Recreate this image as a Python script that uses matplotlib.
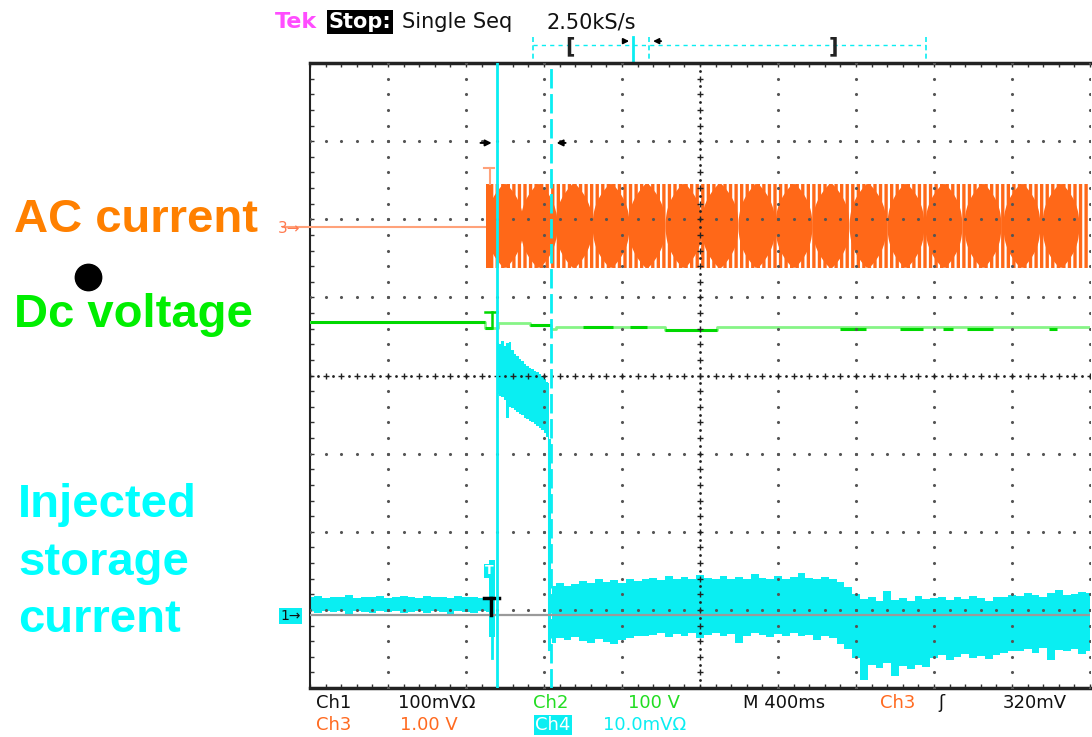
import numpy as np
import matplotlib.pyplot as plt
import matplotlib.transforms as mtransforms
from matplotlib.lines import Line2D
from matplotlib.patches import Polygon

# scope settings: 400 ms/div, 10 x 8 divisions, traces in divisions
sec_per_div = 0.4
n_xdiv, n_ydiv = 10, 8

# Ch3 - AC current (orange)
ac_level_pre = 1.90
ac_on = 0.905
ac_hi, ac_lo = 2.45, 1.38
ac_lobe_t = [1.000, 1.174, 1.354, 1.544, 1.728, 1.918, 2.103, 2.292,
             2.482, 2.672, 2.862, 3.056, 3.251, 3.451, 3.651, 3.851]

# Ch2 - DC voltage (green), step trace
dc_t = [0.0, 0.895, 0.964, 1.128, 1.236, 1.26, 1.82, 2.087, 4.0]
dc_v = [0.685, 0.608, 0.672, 0.646, 0.600, 0.615, 0.580, 0.617, 0.617]
dc_dark = [(0.0, 0.895, 0.685), (0.895, 0.933, 0.608), (1.128, 1.236, 0.646),
           (1.40, 1.554, 0.615), (1.641, 1.728, 0.615), (1.82, 2.087, 0.580),
           (2.72, 2.85, 0.60), (3.026, 3.144, 0.59), (3.246, 3.297, 0.59),
           (3.369, 3.503, 0.59), (3.79, 3.83, 0.59)]

# Ch4 - injected storage current (cyan), envelope of the noisy trace
inj_pre_t = np.arange(0.0, 0.921, 0.04)
inj_pre_top = [-2.84, -2.82, -2.85, -2.83, -2.84, -2.81, -2.85, -2.83, -2.84, -2.82,
               -2.85, -2.83, -2.82, -2.84, -2.85, -2.82, -2.84, -2.83, -2.85, -2.82,
               -2.84, -2.83, -2.85, -2.84]
inj_pre_bot = [-3.02, -3.04, -3.01, -3.03, -3.02, -3.05, -3.02, -3.03, -3.04, -3.01,
               -3.03, -3.02, -3.04, -3.03, -3.02, -3.04, -3.01, -3.03, -3.05, -3.02,
               -3.03, -3.04, -3.02, -3.03]

inj_on_t = [0.964, 0.974, 0.987, 1.000, 1.013, 1.026, 1.039, 1.051, 1.064, 1.077, 1.090,
            1.103, 1.115, 1.128, 1.141, 1.154, 1.167, 1.179, 1.192, 1.205, 1.218, 1.226]
inj_on_top = [0.42, 0.40, 0.44, 0.38, 0.41, 0.43, 0.33, 0.28, 0.25, 0.21, 0.18,
              0.15, 0.12, 0.10, 0.08, 0.06, 0.04, 0.02, -0.01, -0.04, -0.08, -0.10]
inj_on_bot = [-0.24, -0.26, -0.28, -0.31, -0.54, -0.40, -0.42, -0.44, -0.47, -0.49, -0.51,
              -0.54, -0.56, -0.58, -0.60, -0.62, -0.64, -0.67, -0.70, -0.74, -0.79, -0.83]

inj_post_t = np.arange(1.24, 4.001, 0.04)
inj_post_top = [-2.70, -2.66, -2.69, -2.67,
                -2.63, -2.66, -2.61, -2.64, -2.62, -2.65, -2.60, -2.63, -2.61,
                -2.59, -2.62, -2.57, -2.60, -2.58, -2.61, -2.55, -2.59, -2.60, -2.57,
                -2.61, -2.58, -2.60, -2.54, -2.59, -2.61, -2.57, -2.60, -2.58, -2.53,
                -2.59, -2.60, -2.58,
                -2.60, -2.64,
                -2.71, -2.80,
                -2.86, -2.84, -2.88, -2.76, -2.87, -2.85, -2.89, -2.82, -2.86,
                -2.85, -2.83, -2.87, -2.84, -2.86, -2.82, -2.85, -2.88, -2.84, -2.83, -2.81,
                -2.82, -2.78, -2.81, -2.83, -2.79, -2.74, -2.81, -2.80, -2.77, -2.79]
inj_post_bot = [-3.43, -3.36, -3.38, -3.35,
                -3.40, -3.42, -3.37, -3.41, -3.44, -3.38, -3.36, -3.34, -3.33,
                -3.32, -3.30, -3.35, -3.31, -3.33, -3.29, -3.36, -3.32, -3.30, -3.34,
                -3.31, -3.42, -3.33, -3.30, -3.32, -3.35, -3.31, -3.33, -3.29, -3.34,
                -3.32, -3.38, -3.33,
                -3.36, -3.44,
                -3.50, -3.62,
                -3.90, -3.70, -3.74, -3.68, -3.85, -3.72, -3.76, -3.70, -3.73,
                -3.62, -3.58, -3.64, -3.60, -3.57, -3.61, -3.59, -3.63, -3.58, -3.55, -3.53,
                -3.52, -3.50, -3.55, -3.49, -3.64, -3.51, -3.53, -3.50, -3.56, -3.52]

# Ch1 reference line and cursors
ch1_level = -3.07
cursor_a, cursor_b = 0.959, 1.236

ORANGE = '#ff6818'
ORANGE_LT = '#ffa27a'
GREEN = '#00d800'
GREEN_LT = '#86f486'
CYAN = '#0aeef2'

W, H = 1092, 737
fig = plt.figure(figsize=(W / 100, H / 100), dpi=100)
fig.patch.set_facecolor('white')


def fx(px):
    return px / W


def fy(py):
    return 1 - py / H


ax = fig.add_axes([fx(310), fy(688), fx(1090) - fx(310), fy(63) - fy(688)])
ax.set_xlim(0, n_xdiv * sec_per_div)
ax.set_ylim(-n_ydiv / 2, n_ydiv / 2)
ax.set_facecolor('white')

# graticule: border ticks
ax.set_xticks(np.arange(0, 4.0001, sec_per_div / 5))
ax.set_yticks(np.arange(-4, 4.001, 0.2))
ax.tick_params(direction='in', length=3, width=1, color='#333333',
               top=True, bottom=True, left=True, right=False,
               labelbottom=False, labelleft=False)
ax.spines['right'].set_visible(False)
ax.spines['top'].set_linewidth(2.5)
ax.spines['bottom'].set_linewidth(2.5)
ax.spines['left'].set_linewidth(1.5)
for s in ax.spines.values():
    s.set_color('#222222')

# graticule dots
yy = np.arange(-4, 4.001, 0.2)
xx = np.arange(0, 4.001, sec_per_div / 5)
for k in range(1, n_xdiv + 1):
    if k == 5:
        continue
    ax.scatter(np.full(yy.size, k * sec_per_div), yy, s=5, c='#555555', lw=0, zorder=6)
for j in (-3, -2, -1, 1, 2, 3):
    ax.scatter(xx, np.full(xx.size, j), s=5, c='#555555', lw=0, zorder=6)
# center cross lines
ax.scatter(np.full(yy.size, 2.0), yy, marker='+', s=24, c='#222222', lw=1.0, zorder=6)
ax.scatter(xx, np.zeros(xx.size), marker='+', s=24, c='#222222', lw=1.0, zorder=6)
yh = np.arange(-3.9, 4.0, 0.2)
xh = np.arange(0.04, 4.0, sec_per_div / 5)
ax.scatter(np.full(yh.size, 2.0), yh, s=4, c='#222222', lw=0, zorder=6)
ax.scatter(xh, np.zeros(xh.size), s=4, c='#222222', lw=0, zorder=6)

# Ch3 AC current
ax.plot([-0.14, ac_on], [ac_level_pre, ac_level_pre], color=ORANGE_LT, lw=1.5,
        zorder=3, clip_on=False)
plt.rcParams['hatch.linewidth'] = 2.4
plt.rcParams['hatch.color'] = ORANGE
ax.fill_between([ac_on, 4.0], ac_lo, ac_hi, facecolor='none', edgecolor=ORANGE,
                hatch='|||', lw=0, zorder=3)
ac_mid = (ac_hi + ac_lo) / 2
ac_amp = (ac_hi - ac_lo) / 2
half_w = 0.086
vs = np.linspace(-1, 1, 31)
for c in ac_lobe_t:
    hw = half_w * (1 - np.abs(vs) ** 2.4) + 0.008
    pts = np.column_stack([np.r_[c + hw, (c - hw)[::-1]],
                           np.r_[ac_mid + vs * ac_amp, (ac_mid + vs * ac_amp)[::-1]]])
    ax.add_patch(Polygon(pts, closed=True, facecolor=ORANGE, edgecolor='none', zorder=3))
ax.fill_between([ac_on, ac_on + 0.02], ac_lo, ac_hi, color=ORANGE, lw=0, zorder=3)
ax.plot([0.892, 0.944], [2.657, 2.657], color=ORANGE_LT, lw=1.5, zorder=3)
ax.plot([0.923, 0.923], [2.657, ac_hi], color=ORANGE_LT, lw=1.5, zorder=3)

# Ch2 DC voltage
ax.plot(dc_t, dc_v, drawstyle='steps-post', color=GREEN_LT, lw=2, zorder=3)
for t0, t1, v in dc_dark:
    ax.plot([t0, t1], [v, v], color=GREEN, lw=2.2, solid_capstyle='butt', zorder=3)
ax.plot([0.897, 0.959], [0.813, 0.813], color=GREEN, lw=1.8, zorder=3)
ax.plot([0.933, 0.933], [0.813, 0.608], color=GREEN, lw=1.8, zorder=3)

# Ch4 injected storage current
ax.fill_between(inj_pre_t, inj_pre_bot, inj_pre_top, step='mid', color=CYAN, lw=0, zorder=2)
ax.fill_between([0.918, 0.950], -3.35, -2.36, color=CYAN, lw=0, zorder=2)
ax.plot([0.935, 0.935], [-3.35, -3.62], color=CYAN, lw=2, zorder=2)
ax.fill_between(inj_on_t, inj_on_bot, inj_on_top, step='mid', color=CYAN, lw=0, zorder=2)
ax.plot([1.228, 1.228], [inj_on_bot[-1], inj_post_bot[0] - 0.07], color=CYAN, lw=2.2, zorder=2)
ax.fill_between(inj_post_t, inj_post_bot, inj_post_top, step='mid', color=CYAN, lw=0, zorder=2)
ax.text(0.92, -2.50, 'T', color='white', fontsize=9, fontweight='bold', ha='center',
        va='center', bbox=dict(facecolor=CYAN, edgecolor='none', pad=0.5), zorder=4)

# Ch1 reference trace and trigger mark
ax.plot([0, 4.0], [ch1_level, ch1_level], color='#9a9a9a', lw=1.6, zorder=5)
ax.plot([0.892, 0.969], [-2.85, -2.85], color='black', lw=2.5, zorder=7)
ax.plot([0.928, 0.928], [-2.85, ch1_level], color='black', lw=2.5, zorder=7)

# cursors
ax.axvline(cursor_a, color=CYAN, lw=2, zorder=8)
ax.axvline(cursor_b, color=CYAN, lw=2, ls=(0, (7, 2)), zorder=8)
ax.annotate('', xy=(0.946, 2.977), xytext=(0.86, 2.977),
            arrowprops=dict(arrowstyle='-|>', color='black', lw=1.4, mutation_scale=9), zorder=9)
ax.annotate('', xy=(1.250, 2.977), xytext=(1.325, 2.977),
            arrowprops=dict(arrowstyle='-|>', color='black', lw=1.4, mutation_scale=9), zorder=9)

# record position indicator above the graticule
trans = mtransforms.blended_transform_factory(ax.transData, ax.transAxes)
ax.plot([1.144, 3.159], [1.0288, 1.0288], transform=trans, clip_on=False,
        color=CYAN, lw=1, ls=(0, (3, 3)))
for t in (1.144, 3.159, 1.738):
    ax.plot([t, t], [1.0416, 1.0048], transform=trans, clip_on=False,
            color=CYAN, lw=1.2, ls=(0, (3, 2)))
ax.plot([1.656, 1.656], [1.0416, 1.0], transform=trans, clip_on=False, color=CYAN, lw=2)
ax.text(1.333, 1.027, '[', transform=trans, ha='center', va='center', fontsize=15,
        fontweight='bold', color='#222222')
ax.text(2.682, 1.027, ']', transform=trans, ha='center', va='center', fontsize=15,
        fontweight='bold', color='#222222')
ax.annotate('', xy=(1.651, 1.035), xytext=(1.590, 1.035), xycoords=trans, textcoords=trans,
            arrowprops=dict(arrowstyle='-|>', color='black', lw=1.3, mutation_scale=8))
ax.annotate('', xy=(1.745, 1.035), xytext=(1.815, 1.035), xycoords=trans, textcoords=trans,
            arrowprops=dict(arrowstyle='-|>', color='black', lw=1.3, mutation_scale=8))

# channel markers left of the graticule
fig.text(fx(278), fy(233), '3→', color='#ff7a50', fontsize=11)
fig.text(fx(280), fy(620), '1→', color='#111111', fontsize=10,
         bbox=dict(facecolor=CYAN, edgecolor='none', pad=1))

# header
fig.text(fx(275), fy(28), 'Tek', color='#ff4dff', fontsize=16, fontweight='bold')
fig.text(fx(329), fy(28), 'Stop:', color='white', fontsize=15, fontweight='bold',
         bbox=dict(facecolor='black', edgecolor='none', pad=1.2))
fig.text(fx(402), fy(28), 'Single Seq', color='#111111', fontsize=15)
fig.text(fx(547), fy(28), '2.50kS/s', color='#111111', fontsize=15)

# status lines
row1, row2 = fy(708), fy(730)
fs = 13
fig.text(fx(316), row1, 'Ch1', color='#111111', fontsize=fs)
fig.text(fx(398), row1, '100mVΩ', color='#111111', fontsize=fs)
fig.text(fx(533), row1, 'Ch2', color='#22dd22', fontsize=fs)
fig.text(fx(628), row1, '100 V', color='#22dd22', fontsize=fs)
fig.text(fx(743), row1, 'M 400ms', color='#111111', fontsize=fs)
fig.text(fx(880), row1, 'Ch3', color='#ff6a20', fontsize=fs)
fig.text(fx(938), row1, 'ʃ', color='#111111', fontsize=fs)
fig.text(fx(1003), row1, '320mV', color='#111111', fontsize=fs)
fig.text(fx(316), row2, 'Ch3', color='#ff6a20', fontsize=fs)
fig.text(fx(400), row2, '1.00 V', color='#ff6a20', fontsize=fs)
fig.text(fx(535), row2, 'Ch4', color='white', fontsize=fs,
         bbox=dict(facecolor=CYAN, edgecolor='none', pad=1))
fig.text(fx(603), row2, '10.0mVΩ', color=CYAN, fontsize=fs)

# signal names
lab = dict(fontsize=34, fontweight='bold', family='Liberation Sans')
fig.text(fx(14), fy(232), 'AC current', color='#ff8000', **lab)
fig.text(fx(14), fy(327), 'Dc voltage', color='#00ee00', **lab)
fig.text(fx(18), fy(517), 'Injected', color='#00ffff', **lab)
fig.text(fx(18), fy(575), 'storage', color='#00ffff', **lab)
fig.text(fx(18), fy(632), 'current', color='#00ffff', **lab)
fig.add_artist(Line2D([fx(88)], [fy(277)], marker='o', markersize=19,
                      color='black', transform=fig.transFigure))

fig.savefig('out.png', dpi=100, facecolor='white')
